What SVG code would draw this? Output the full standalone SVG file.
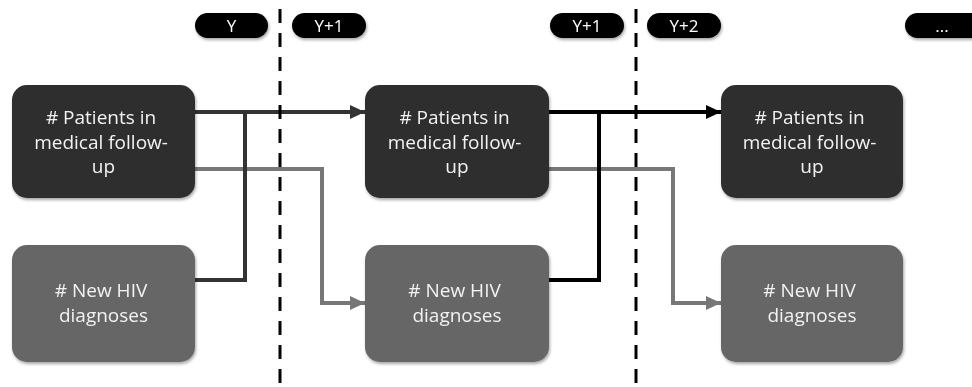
<svg xmlns="http://www.w3.org/2000/svg" width="972" height="387" viewBox="0 0 972 387">
  <style>
    .box text { font-family: "Open Sans", "Liberation Sans", sans-serif; font-size: 19px; fill: #f2f2f2; text-anchor: middle; }
    .followup rect { fill: #2f2f2f; }
    .newdx rect { fill: #666666; }
    .pill rect { fill: #050505; }
    .pill text { font-family: "Open Sans", "Liberation Sans", sans-serif; font-size: 17px; fill: #ffffff; text-anchor: middle; }
    .conn { fill: none; stroke-width: 4; stroke-linejoin: miter; }
    .dark { stroke: #333333; }
    .black { stroke: #000000; }
    .grey { stroke: #777777; }
    .divider { stroke: #000000; stroke-width: 3; stroke-dasharray: 14 10; }
  </style>
  <defs>
    <filter id="shadow" x="-10%" y="-10%" width="125%" height="130%">
      <feDropShadow dx="1" dy="2" stdDeviation="1.5" flood-color="#000000" flood-opacity="0.35"/>
    </filter>
    <marker id="arrowDark" markerUnits="userSpaceOnUse" markerWidth="16" markerHeight="16" refX="15" refY="8" orient="auto">
      <path d="M0,1 L15,8 L0,15 z" fill="#333333"/>
    </marker>
    <marker id="arrowBlack" markerUnits="userSpaceOnUse" markerWidth="16" markerHeight="16" refX="15" refY="8" orient="auto">
      <path d="M0,1 L15,8 L0,15 z" fill="#000000"/>
    </marker>
    <marker id="arrowGrey" markerUnits="userSpaceOnUse" markerWidth="16" markerHeight="16" refX="15" refY="8" orient="auto">
      <path d="M0,1 L15,8 L0,15 z" fill="#777777"/>
    </marker>
  </defs>

  <rect width="972" height="387" fill="#ffffff"/>

  <!-- year labels -->
  <g id="label-y" class="pill" filter="url(#shadow)">
    <rect x="195" y="13" width="73" height="25" rx="12.5"/>
    <text x="231.5" y="32">Y</text>
  </g>
  <g id="label-y1a" class="pill" filter="url(#shadow)">
    <rect x="292" y="13" width="74" height="25" rx="12.5"/>
    <text x="329" y="32">Y+1</text>
  </g>
  <g id="label-y1b" class="pill" filter="url(#shadow)">
    <rect x="550" y="13" width="74" height="25" rx="12.5"/>
    <text x="587" y="32">Y+1</text>
  </g>
  <g id="label-y2" class="pill" filter="url(#shadow)">
    <rect x="647" y="13" width="74" height="25" rx="12.5"/>
    <text x="684" y="32">Y+2</text>
  </g>
  <g id="label-more" class="pill" filter="url(#shadow)">
    <rect x="905" y="13" width="80" height="25" rx="12.5"/>
    <text x="942" y="32">...</text>
  </g>

  <!-- connectors -->
  <g id="connectors">
    <path class="conn grey" d="M195,169 H322 V303 H365" marker-end="url(#arrowGrey)"/>
    <path class="conn dark" d="M195,112 H365" marker-end="url(#arrowDark)"/>
    <path class="conn dark" d="M195,280 H245 V112"/>
    <path class="conn grey" d="M549,169 H673 V303 H721" marker-end="url(#arrowGrey)"/>
    <path class="conn black" d="M549,112 H721" marker-end="url(#arrowBlack)"/>
    <path class="conn black" d="M549,280 H599 V112"/>
  </g>

  <!-- year boundaries -->
  <line class="divider" x1="280" y1="9" x2="280" y2="387"/>
  <line class="divider" x1="636" y1="9" x2="636" y2="387"/>

  <!-- nodes -->
  <g id="followup-y" class="box followup" filter="url(#shadow)">
    <rect x="12" y="85" width="183" height="113" rx="15"/>
    <text x="103.5" y="124">
      <tspan x="103.5"># Patients in</tspan>
      <tspan x="103.5" dy="24.5">medical follow-</tspan>
      <tspan x="103.5" dy="24.5">up</tspan>
    </text>
  </g>
  <g id="newdx-y" class="box newdx" filter="url(#shadow)">
    <rect x="12" y="245" width="183" height="117" rx="15"/>
    <text x="103.5" y="297">
      <tspan x="103.5"># New HIV</tspan>
      <tspan x="103.5" dy="24.5">diagnoses</tspan>
    </text>
  </g>
  <g id="followup-y1" class="box followup" filter="url(#shadow)">
    <rect x="365" y="85" width="184" height="113" rx="15"/>
    <text x="457" y="124">
      <tspan x="457"># Patients in</tspan>
      <tspan x="457" dy="24.5">medical follow-</tspan>
      <tspan x="457" dy="24.5">up</tspan>
    </text>
  </g>
  <g id="newdx-y1" class="box newdx" filter="url(#shadow)">
    <rect x="365" y="245" width="184" height="117" rx="15"/>
    <text x="457" y="297">
      <tspan x="457"># New HIV</tspan>
      <tspan x="457" dy="24.5">diagnoses</tspan>
    </text>
  </g>
  <g id="followup-y2" class="box followup" filter="url(#shadow)">
    <rect x="721" y="85" width="182" height="113" rx="15"/>
    <text x="812" y="124">
      <tspan x="812"># Patients in</tspan>
      <tspan x="812" dy="24.5">medical follow-</tspan>
      <tspan x="812" dy="24.5">up</tspan>
    </text>
  </g>
  <g id="newdx-y2" class="box newdx" filter="url(#shadow)">
    <rect x="721" y="245" width="182" height="117" rx="15"/>
    <text x="812" y="297">
      <tspan x="812"># New HIV</tspan>
      <tspan x="812" dy="24.5">diagnoses</tspan>
    </text>
  </g>
</svg>
